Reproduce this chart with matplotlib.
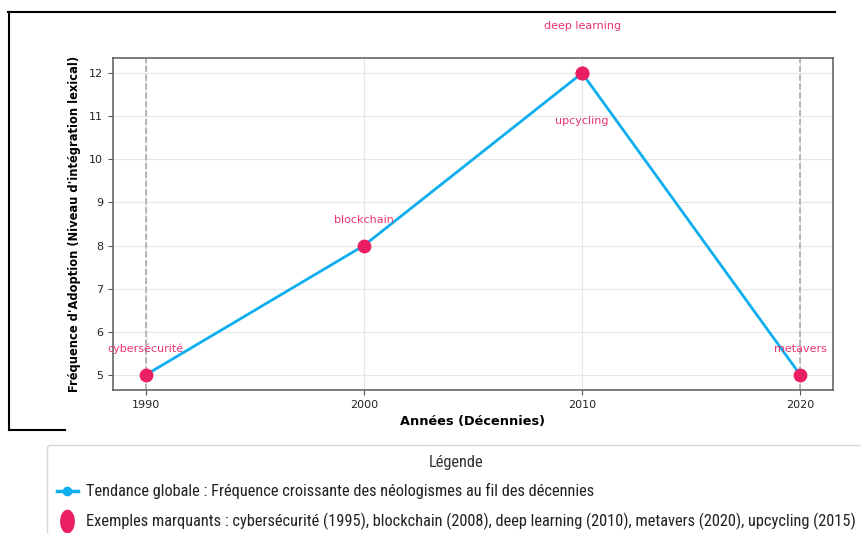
import matplotlib
matplotlib.use("Agg")
import matplotlib.pyplot as plt
from matplotlib.lines import Line2D
from matplotlib.path import Path
import numpy as np

# ---- data ----
decades = [1990, 2000, 2010, 2020]
frequency = [5, 8, 12, 5]
example_words = ["cybersécurité", "blockchain", "deep learning", "upcycling", "metavers"]
example_decades = [1990, 2000, 2010, 2010, 2020]
example_freq = [5, 8, 12, 12, 5]
legend_title = "Légende"
legend_line = "Tendance globale : Fréquence croissante des néologismes au fil des décennies"
legend_points = ("Exemples marquants : cybersécurité (1995), blockchain (2008), "
                 "deep learning (2010), metavers (2020), upcycling (2015)")

# label placement (style, not data)
label_offsets = [0.6, 0.6, 1.1, -1.1, 0.6]

LINE_C = "#0eaeef"
PINK = "#e91e63"

fig = plt.figure(figsize=(8.61, 5.33), dpi=100)
W, H = 861, 533
ax = fig.add_axes([113 / W, 1 - 390 / H, (833 - 113) / W, (390 - 58) / H])

ax.grid(True, color="#e6e6e6", linewidth=0.8)
ax.set_axisbelow(True)
for d in (decades[0], decades[-1]):
    ax.axvline(d, color="#aaaaaa", linestyle="--", linewidth=1.2, zorder=1)

ax.plot(decades, frequency, color=LINE_C, linewidth=2, zorder=2)
ax.scatter(example_decades, example_freq, s=80, color=PINK, zorder=3)

for w, x, y, off in zip(example_words, example_decades, example_freq, label_offsets):
    ax.text(x, y + off, w, color=PINK, fontsize=8, ha="center", va="center", alpha=0.9)

ax.set_xticks(decades)
ax.tick_params(labelsize=8, color="#555555", labelcolor="#222222")
for s in ax.spines.values():
    s.set_color("#666666")
    s.set_linewidth(1.2)
ax.set_xlabel("Années (Décennies)", fontsize=9.3, fontweight="bold")
ax.set_ylabel("Fréquence d'Adoption (Niveau d'intégration lexical)", fontsize=8.3,
              fontweight="bold", labelpad=6)

# frame lines around the upper part
def fl(x0, y0, x1, y1, lw=1.5):
    fig.add_artist(Line2D([x0 / W, x1 / W], [1 - y0 / H, 1 - y1 / H], color="black",
                          linewidth=lw, transform=fig.transFigure))
fl(8, 12, 835, 12)
fl(9, 12, 9, 430)
fl(9, 430, 65, 430)

t = np.linspace(0, 2 * np.pi, 60)
ell = Path(np.column_stack([0.6 * np.cos(t), np.sin(t)]))

FS = 11.75
handles = [Line2D([], [], color=LINE_C, linewidth=2.5, marker="o", markersize=6),
           Line2D([], [], color=PINK, linestyle="none", marker=ell, markersize=16)]
leg = fig.legend(handles, [legend_line, legend_points], loc="upper left",
                 bbox_to_anchor=(47 / W, 1 - 445 / H), title=legend_title,
                 prop={"family": "Roboto Condensed", "size": FS},
                 frameon=True, borderaxespad=0, borderpad=0.6,
                 handlelength=1.3, handletextpad=0.5, labelspacing=0.83)
leg.get_title().set_fontfamily("Roboto Condensed")
leg.get_title().set_fontsize(11.8)
leg.get_title().set_color("#333333")
for tx in leg.get_texts():
    tx.set_color("#222222")
leg.get_frame().set_edgecolor("#cccccc")

fig.savefig("out.png", dpi=100)
